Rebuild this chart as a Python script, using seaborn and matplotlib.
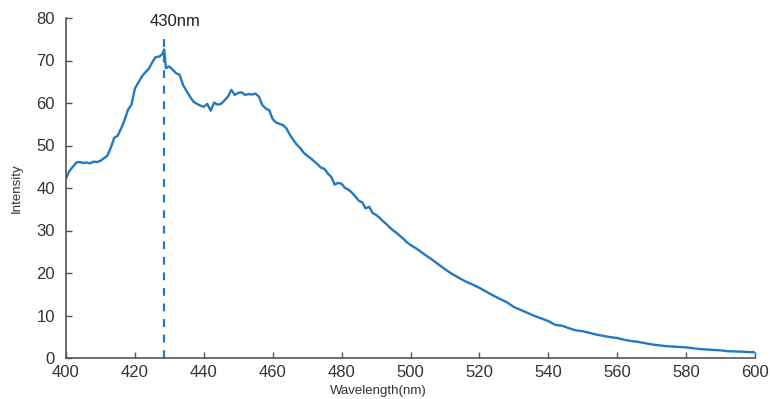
import numpy as np
import pandas as pd
import matplotlib
matplotlib.use('Agg')
import matplotlib.pyplot as plt
import seaborn as sns

# 发射光谱数据
wavelength = [400, 401, 402, 403, 404, 405, 406, 407, 408, 409,
              410, 411, 412, 413, 414, 415, 416, 417, 418, 419,
              420, 421, 422, 423, 424, 425, 426, 427, 428, 428.5,
              429, 430, 431, 432, 433, 434, 435, 436, 437, 438, 439,
              440, 441, 442, 443, 444, 445, 446, 447, 448, 449,
              450, 451, 452, 453, 454, 455, 456, 457, 458, 459,
              460, 461, 462, 463, 464, 465, 466, 467, 468, 469,
              470, 471, 472, 473, 474, 475, 476, 477, 478, 479,
              480, 481, 482, 483, 484, 485, 486, 487, 488, 489,
              490, 491, 492, 493, 494, 495, 496, 497, 498, 499,
              500, 502, 504, 506, 508, 510, 512, 514, 516, 518,
              520, 522, 524, 526, 528, 530, 532, 534, 536, 538,
              540, 542, 544, 546, 548, 550, 552, 554, 556, 558,
              560, 562, 564, 566, 568, 570, 572, 574, 576, 578,
              580, 582, 584, 586, 588, 590, 592, 594, 596, 598, 600]
intensity = [42.3, 44.0, 45.0, 46.0, 46.1, 45.9, 46.0, 45.8, 46.2, 46.1,
             46.4, 47.0, 47.6, 49.5, 51.8, 52.3, 54.0, 56.0, 58.4, 59.6,
             63.4, 64.8, 66.2, 67.2, 68.0, 69.5, 70.8, 70.9, 71.5, 72.6,
             68.2, 68.6, 67.8, 67.0, 66.6, 64.2, 62.8, 61.5, 60.3, 59.8, 59.4,
             59.1, 59.8, 58.2, 60.1, 59.6, 59.8, 60.6, 61.5, 63.1, 61.9,
             62.4, 62.5, 61.9, 62.1, 62.0, 62.2, 61.5, 59.5, 58.7, 58.3,
             56.2, 55.4, 55.1, 54.8, 54.0, 52.5, 51.3, 50.2, 49.4, 48.3,
             47.6, 47.0, 46.3, 45.6, 44.8, 44.5, 43.4, 42.6, 40.8, 41.2,
             41.0, 40.0, 39.6, 38.9, 38.0, 37.0, 36.6, 35.2, 35.6, 34.1,
             33.7, 33.0, 32.2, 31.5, 30.7, 30.0, 29.4, 28.7, 28.0, 27.2,
             26.6, 25.6, 24.4, 23.3, 22.1, 20.9, 19.8, 18.9, 18.0, 17.3,
             16.5, 15.6, 14.7, 13.9, 13.1, 12.0, 11.3, 10.6, 9.9, 9.3,
             8.7, 7.8, 7.6, 7.0, 6.5, 6.3, 5.9, 5.5, 5.2, 4.9,
             4.7, 4.3, 4.0, 3.8, 3.5, 3.2, 3.0, 2.8, 2.7, 2.6,
             2.5, 2.3, 2.1, 2.0, 1.9, 1.8, 1.6, 1.55, 1.5, 1.4, 1.35]
peak_wl = 428.5
peak_label = '430nm'
x_ticks = list(range(400, 601, 20))
y_ticks = list(range(0, 81, 10))

sns.set_theme(style='ticks')
plt.rcParams['font.family'] = ['Liberation Sans', 'DejaVu Sans']

df = pd.DataFrame({'wavelength': wavelength, 'intensity': intensity})
line_color = '#2279c2'
axis_color = '#555555'

fig = plt.figure(figsize=(7.7, 3.99), dpi=100)
ax = fig.add_axes([66/770, 1 - 358/399, (755-66)/770, (358-18)/399])
sns.lineplot(data=df, x='wavelength', y='intensity', ax=ax, color=line_color,
             linewidth=1.7, estimator=None, sort=False)
# 峰位虚线
ax.plot([peak_wl, peak_wl], [0, 76.8], color=line_color, linewidth=1.6,
        linestyle=(0, (3.5, 3.5)))
ax.text(431.6, 79.1, peak_label, ha='center', va='center', fontsize=12,
        color='#222222')

ax.set_xlim(400, 600)
ax.set_ylim(0, 80)
ax.set_xticks(x_ticks)
ax.set_yticks(y_ticks)
ax.tick_params(direction='in', length=4, width=1, colors=axis_color,
               labelcolor='#333333', labelsize=12)
ax.tick_params(axis='y', pad=8)
ax.tick_params(axis='x', pad=5)
for side in ['left', 'bottom']:
    ax.spines[side].set_color(axis_color)
    ax.spines[side].set_linewidth(1.2)
sns.despine(ax=ax)
ax.set_xlabel('')
ax.set_ylabel('Intensity', fontsize=9.5, color='#333333', labelpad=10)
fig.text(378/770, 1 - 391/399, 'Wavelength(nm)', ha='center', va='center',
         fontsize=9.5, color='#333333')

fig.savefig('out.png', dpi=100, facecolor='white')
